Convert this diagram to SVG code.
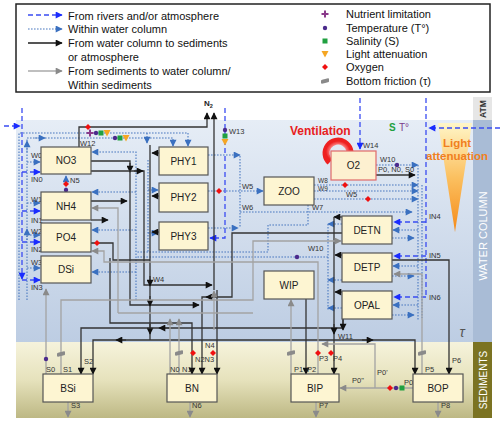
<svg xmlns="http://www.w3.org/2000/svg" width="500" height="423" viewBox="0 0 500 423">
<defs>
<style>
text{font-family:"Liberation Sans",Arial,sans-serif}
.riv{stroke:#3a4cf2;stroke-width:1.3;stroke-dasharray:5 3;fill:none}
.wat{stroke:#4a78c0;stroke-width:1.1;stroke-dasharray:1.6 1.4;fill:none}
.blk{stroke:#333;stroke-width:1.3;fill:none}
.gry{stroke:#a3a3a3;stroke-width:1.3;fill:none}
.riv.a{marker-end:url(#mB)}
.wat.a{marker-end:url(#mW)}
.blk.a{marker-end:url(#mK)}
.gry.a{marker-end:url(#mG)}
.box{fill:#fdf5d2;stroke:#555;stroke-width:1.2}
.nt{font-size:10px;fill:#222;text-anchor:middle}
.lb{font-size:7.5px;fill:#333}
.sm{font-size:6.5px;fill:#333}
.lg{font-size:11px;fill:#111}
</style>
<marker id="mB" viewBox="0 0 10 10" refX="9" refY="5" markerWidth="8" markerHeight="7" markerUnits="userSpaceOnUse" orient="auto"><path d="M0,0L10,5L0,10z" fill="#1a2cff"/></marker>
<marker id="mW" viewBox="0 0 10 10" refX="9" refY="5" markerWidth="8" markerHeight="7" markerUnits="userSpaceOnUse" orient="auto"><path d="M0,0L10,5L0,10z" fill="#3a70c0"/></marker>
<marker id="mK" viewBox="0 0 10 10" refX="9" refY="5" markerWidth="8" markerHeight="7" markerUnits="userSpaceOnUse" orient="auto"><path d="M0,0L10,5L0,10z" fill="#111"/></marker>
<marker id="mG" viewBox="0 0 10 10" refX="9" refY="5" markerWidth="8" markerHeight="7" markerUnits="userSpaceOnUse" orient="auto"><path d="M0,0L10,5L0,10z" fill="#8a8a8a"/></marker>
<linearGradient id="gWater" x1="0" y1="0" x2="0" y2="1"><stop offset="0" stop-color="#e6edf6"/><stop offset="1" stop-color="#bdcde3"/></linearGradient>
<linearGradient id="gSed" x1="0" y1="0" x2="0" y2="1"><stop offset="0" stop-color="#f6f3dc"/><stop offset="0.5" stop-color="#e6e2bc"/><stop offset="1" stop-color="#bdb884"/></linearGradient>
<linearGradient id="gLight" x1="0" y1="0" x2="0" y2="1"><stop offset="0" stop-color="#fff6c8"/><stop offset="0.5" stop-color="#fbc060"/><stop offset="1" stop-color="#f58a18"/></linearGradient>
<radialGradient id="gVent" cx="0.5" cy="0.5" r="0.5"><stop offset="0.6" stop-color="#ff9090"/><stop offset="1" stop-color="#ee2020"/></radialGradient>
<path id="dia" d="M0,-3L3,0L0,3L-3,0z" fill="#f01010"/>
<circle id="dot" r="2.2" fill="#4b2a8c"/>
<rect id="sq" x="-2.5" y="-2.5" width="5" height="5" fill="#20a040"/>
<path id="tri" d="M-3.5,-3L3.5,-3L0,3.5z" fill="#f5a623"/>
<path id="plus" d="M-1,-3.5h2v2.5h2.5v2h-2.5v2.5h-2v-2.5h-2.5v-2h2.5z" fill="#8a3a8a"/>
<rect id="fric" x="-4" y="-2" width="8" height="4" rx="1" fill="#8a8a8a" transform="skewY(-12)"/>
</defs>

<rect width="500" height="423" fill="#fff"/>

<g id="legend">
<rect x="16" y="4" width="474" height="88" fill="#fff" stroke="#222" stroke-width="1.5"/>
<path d="M28,15H62" class="riv a"/>
<path d="M28,29H62" class="wat a"/>
<path d="M28,43H62" stroke="#555" stroke-width="2" fill="none" marker-end="url(#mK)"/>
<path d="M28,71H62" stroke="#aaa" stroke-width="1.3" fill="none" marker-end="url(#mG)"/>
<text class="lg" x="68" y="19.5">From rivers and/or atmosphere</text>
<text class="lg" x="68" y="33">Within water column</text>
<text class="lg" x="68" y="47">From water column to sediments</text>
<text class="lg" x="68" y="61">or atmosphere</text>
<text class="lg" x="68" y="75">From sediments to water column/</text>
<text class="lg" x="68" y="89">Within sediments</text>
<use href="#plus" x="325" y="14"/>
<use href="#dot" x="325" y="28"/>
<use href="#sq" x="325" y="41"/>
<use href="#tri" x="325" y="54"/>
<use href="#dia" x="325" y="67"/>
<use href="#fric" x="325" y="81"/>
<text class="lg" x="346" y="18">Nutrient limitation</text>
<text class="lg" x="346" y="32">Temperature (T°)</text>
<text class="lg" x="346" y="45">Salinity (S)</text>
<text class="lg" x="346" y="58">Light attenuation</text>
<text class="lg" x="346" y="71">Oxygen</text>
<text class="lg" x="346" y="85">Bottom friction (τ)</text>
</g>

<g id="background">
<rect x="16" y="120" width="457" height="222" fill="url(#gWater)"/>
<rect x="16" y="342" width="457" height="76" fill="url(#gSed)"/>
<rect x="473" y="97" width="19" height="23" fill="#e6e6e6"/>
<rect x="473" y="120" width="19" height="222" fill="#a9bcd6"/>
<rect x="473" y="342" width="19" height="76" fill="#7b7322"/>
<text transform="translate(486,109) rotate(-90)" font-size="8.5" font-weight="bold" fill="#333" text-anchor="middle">ATM</text>
<text transform="translate(487,236) rotate(-90)" font-size="11" fill="#fff" text-anchor="middle">WATER COLUMN</text>
<text transform="translate(487,380) rotate(-90)" font-size="10" fill="#fff" text-anchor="middle">SEDIMENTS</text>
<text x="462" y="337" font-size="14" font-style="italic" fill="#555" text-anchor="middle" font-family="Liberation Serif">τ</text>
<polygon points="438,123 472,123 455,232" fill="url(#gLight)"/>
<text x="457" y="147" font-size="11.5" font-weight="bold" fill="#f07f20" text-anchor="middle">Light</text>
<text x="457" y="160" font-size="11.5" font-weight="bold" fill="#f07f20" text-anchor="middle">attenuation</text>
<text x="290" y="135" font-size="12" font-weight="bold" fill="#e82020">Ventilation</text>
<text x="389" y="131" font-size="10" font-weight="bold" fill="#20a040">S</text>
<text x="399" y="131" font-size="10" fill="#7a3a8a">T°</text>
<path d="M330,162 A12,12 0 1 1 349,158" fill="none" stroke="url(#gVent)" stroke-width="7"/>
<path d="M343,152 L356,155 L347,166 z" fill="#f04040"/>
</g>

<g id="connectors">
<!-- rivers / atmosphere -->
<path d="M4,126H20" class="riv a"/>
<path d="M22,108V279" class="riv a"/>
<path d="M22,172H40" class="riv a"/>
<path d="M22,211H40" class="riv a"/>
<path d="M22,242H40" class="riv a"/>
<path d="M22,280H40" class="riv a"/>
<path d="M225,108V238H210" class="riv a"/>
<path d="M360,98V149" class="riv a"/>
<path d="M500,128H429" class="riv a"/>
<path d="M426,98V297" class="riv"/>
<path d="M426,222H394" class="riv a"/>
<path d="M426,256H394" class="riv a"/>
<path d="M426,297H394" class="riv a"/>

<!-- within water column -->
<path d="M19,300V133H188V146" class="wat a"/>
<path d="M27,300V138H173V146" class="wat a"/>
<path d="M35,138H45" class="wat a"/>
<path d="M147,133V143" class="wat a"/>
<path d="M27,152V141" class="wat a"/>
<path d="M27,240V229" class="wat a"/>
<path d="M27,162H40" class="wat a"/>
<path d="M27,203H40" class="wat a"/>
<path d="M27,235H40" class="wat a"/>
<path d="M27,268H40" class="wat a"/>
<path d="M136,300V152H92" class="wat a"/>
<path d="M136,192H92" class="wat a"/>
<path d="M136,230H92" class="wat a"/>
<path d="M136,272H92" class="wat a"/>
<path d="M148,160V252" class="wat"/>
<path d="M148,190H158" class="wat a"/>
<path d="M148,233H158" class="wat a"/>
<path d="M208,155H240" class="wat a"/>
<path d="M240,156V228" class="wat"/>
<path d="M208,191H263" class="wat a"/>
<path d="M208,228H238" class="wat a"/>
<path d="M240,212H412" class="wat a"/>
<path d="M308,205V225H268V252H136" class="wat"/>
<path d="M328,224V310" class="wat"/>
<path d="M328,257H136" class="wat"/>
<path d="M342,224H328" class="wat a"/>
<path d="M342,280H328" class="wat a"/>
<path d="M342,308H328" class="wat a"/>
<path d="M314,185H418" class="wat a"/>
<path d="M314,191H418" class="wat a"/>
<path d="M314,199H418" class="wat a"/>
<path d="M376,165H418" class="wat a"/>
<path d="M418,165V320" class="wat"/>
<path d="M422,185V318" class="wat"/>
<path d="M418,230H393" class="wat a"/>
<path d="M418,266H393" class="wat a"/>
<path d="M418,305H393" class="wat a"/>
<path d="M392,238H414" class="wat a"/>
<path d="M392,276H414" class="wat a"/>
<path d="M392,315H414" class="wat a"/>

<!-- water column to sediments / atmosphere -->
<path d="M79,147V127H207V113" class="blk a"/>
<path d="M214,290V113" class="blk a"/>
<path d="M91,161H130V305H199" class="blk a"/>
<path d="M130,163V172" class="blk a"/>
<path d="M91,171H144V285H212" class="blk a"/>
<path d="M134,171H143" class="blk a"/>
<path d="M91,201H127" class="blk a"/>
<path d="M91,220H108" class="blk a"/>
<path d="M91,243H113V260H150" class="blk"/>
<path d="M159,153H152" class="blk a"/>
<path d="M159,196H152" class="blk a"/>
<path d="M159,232H152" class="blk a"/>
<path d="M150,145V340" class="blk"/>
<path d="M150,276V286" class="blk a"/>
<path d="M150,296V306" class="blk a"/>
<path d="M150,324V334" class="blk a"/>
<path d="M150,340H93V374" class="blk a"/>
<path d="M126,340H116" class="blk a"/>
<path d="M150,340H415V374" class="blk a"/>
<path d="M362,340H373" class="blk a"/>
<path d="M343,319V328H81V374" class="blk a"/>
<path d="M343,319V330" class="blk a"/>
<path d="M170,328H159" class="blk a"/>
<path d="M110,258V323H192V374" class="blk a"/>
<path d="M342,233H232V297H202V374" class="blk a"/>
<path d="M215,297H206" class="blk a"/>
<path d="M217,290V374" class="blk a"/>
<path d="M306,299V374" class="blk a"/>
<path d="M342,217H334" class="blk a"/>
<path d="M342,255H335" class="blk a"/>
<path d="M342,292H335" class="blk a"/>
<path d="M334,217V374" class="blk a"/>
<path d="M334,324V334" class="blk a"/>
<path d="M392,260H449V374" class="blk a"/>
<path d="M376,175H415" class="blk a"/>

<!-- from sediments -->
<path d="M46,374V289" class="gry a"/>
<path d="M61,374V300H253V241H341" class="gry a"/>
<path d="M68,402V417" class="gry a"/>
<path d="M118,313V208H92" class="gry a"/>
<path d="M118,313H253" class="gry"/>
<path d="M318,374V262H104V251H92" class="gry a"/>
<path d="M170,374V319" class="gry a"/>
<path d="M179,374V319" class="gry a"/>
<path d="M214,330V291" class="gry a"/>
<path d="M190,402V417" class="gry a"/>
<path d="M291,374V300" class="gry a"/>
<path d="M316,402V417" class="gry a"/>
<path d="M438,402V417" class="gry a"/>
<path d="M413,388H340" class="gry a"/>
<path d="M375,388V344H322" class="gry a"/>
<path d="M422,374V274H394" class="gry a"/>

<!-- symbols -->
<use href="#dia" x="88" y="127"/>
<use href="#plus" x="90" y="133"/>
<use href="#dot" x="96" y="133"/>
<use href="#sq" x="101" y="133"/>
<use href="#tri" x="107" y="133"/>
<use href="#dot" x="115" y="138"/>
<use href="#sq" x="120" y="138"/>
<use href="#tri" x="126" y="138"/>
<path d="M66,192V176" class="wat a"/>
<use href="#dia" x="66" y="184"/>
<use href="#dot" x="66" y="190"/>
<use href="#dot" x="225" y="130"/>
<use href="#sq" x="225" y="136"/>
<use href="#tri" x="225" y="142"/>
<use href="#dia" x="219" y="191"/>
<use href="#dia" x="97" y="243"/>
<use href="#dia" x="345" y="185"/>
<use href="#dia" x="368" y="199"/>
<use href="#dot" x="397" y="165"/>
<use href="#dot" x="297" y="257"/>
<use href="#dot" x="46" y="359"/>
<use href="#fric" x="61" y="354"/>
<use href="#fric" x="179" y="353"/>
<use href="#dia" x="193" y="353"/>
<use href="#dia" x="213" y="353"/>
<use href="#fric" x="291" y="353"/>
<use href="#dia" x="318" y="353"/>
<use href="#dia" x="331" y="353"/>
<use href="#fric" x="422" y="353"/>
<use href="#dia" x="390" y="388"/>
<use href="#dot" x="396" y="388"/>
<use href="#sq" x="402" y="388"/>
</g>

<g id="labels">
<text class="lb" x="31" y="158">W0</text>
<text class="lb" x="31" y="182">IN0</text>
<text class="lb" x="31" y="202">W1</text>
<text class="lb" x="31" y="223">IN1</text>
<text class="lb" x="31" y="234">W2</text>
<text class="lb" x="31" y="252">IN2</text>
<text class="lb" x="31" y="265">W3</text>
<text class="lb" x="31" y="290">IN3</text>
<text class="lb" x="80" y="146">W12</text>
<text class="lb" x="70" y="183">N5</text>
<text class="lb" x="229" y="134">W13</text>
<text x="204" y="106" font-size="8" font-weight="bold" fill="#222">N<tspan font-size="5.5" dy="2">2</tspan></text>
<text class="lb" x="242" y="189">W5</text>
<text class="lb" x="242" y="210">W6</text>
<text class="lb" x="312" y="210">W7</text>
<text class="lb" x="363" y="148">W14</text>
<text class="lb" x="380" y="162">W10</text>
<text class="lb" x="378" y="172">P0, N0, S0</text>
<text class="sm" x="318" y="183">W8</text>
<text class="sm" x="318" y="190.5">W9</text>
<text class="lb" x="346" y="197">W5</text>
<text class="lb" x="308" y="251">W10</text>
<text class="lb" x="153" y="282">W4</text>
<text class="lb" x="338" y="339">W11</text>
<text class="lb" x="429" y="219">IN4</text>
<text class="lb" x="429" y="258">IN5</text>
<text class="lb" x="429" y="300">IN6</text>
<text class="lb" x="46" y="372">S0</text>
<text class="lb" x="63" y="372">S1</text>
<text class="lb" x="84" y="364">S2</text>
<text class="lb" x="71" y="408">S3</text>
<text class="lb" x="170" y="372">N0</text>
<text class="lb" x="182" y="372">N1</text>
<text class="lb" x="195" y="362">N2N3</text>
<text class="lb" x="205" y="348">N4</text>
<text class="lb" x="192" y="408">N6</text>
<text class="lb" x="294" y="372">P1</text>
<text class="lb" x="307" y="372">P2</text>
<text class="lb" x="319" y="361">P3</text>
<text class="lb" x="333" y="361">P4</text>
<text class="lb" x="377" y="375">P0'</text>
<text class="lb" x="352" y="383">P0"</text>
<text class="lb" x="404" y="385">P0</text>
<text class="lb" x="425" y="372">P5</text>
<text class="lb" x="452" y="363">P6</text>
<text class="lb" x="319" y="408">P7</text>
<text class="lb" x="441" y="408">P8</text>
</g>

<g id="NO3"><rect class="box" x="41" y="147" width="50" height="27"/><text class="nt" x="66" y="164">NO3</text></g>
<g id="NH4"><rect class="box" x="41" y="192" width="50" height="28"/><text class="nt" x="66" y="210">NH4</text></g>
<g id="PO4"><rect class="box" x="41" y="223" width="50" height="29"/><text class="nt" x="66" y="241">PO4</text></g>
<g id="DSi"><rect class="box" x="41" y="256" width="50" height="27"/><text class="nt" x="66" y="273">DSi</text></g>
<g id="PHY1"><rect class="box" x="159" y="147" width="49" height="28"/><text class="nt" x="183.5" y="165">PHY1</text></g>
<g id="PHY2"><rect class="box" x="159" y="183" width="49" height="29"/><text class="nt" x="183.5" y="201">PHY2</text></g>
<g id="PHY3"><rect class="box" x="159" y="222" width="49" height="28"/><text class="nt" x="183.5" y="240">PHY3</text></g>
<g id="ZOO"><rect class="box" x="264" y="177" width="50" height="28"/><text class="nt" x="289" y="195">ZOO</text></g>
<g id="O2"><rect x="331" y="151" width="45" height="29" fill="#fdf0d0" stroke="#e06a6a" stroke-width="1.2"/><text class="nt" x="353.5" y="169">O2</text></g>
<g id="DETN"><rect class="box" x="342" y="216" width="50" height="28"/><text class="nt" x="367" y="234">DETN</text></g>
<g id="DETP"><rect class="box" x="342" y="253" width="50" height="29"/><text class="nt" x="367" y="271">DETP</text></g>
<g id="OPAL"><rect class="box" x="342" y="291" width="50" height="28"/><text class="nt" x="367" y="309">OPAL</text></g>
<g id="WIP"><rect class="box" x="264" y="271" width="50" height="28"/><text class="nt" x="289" y="289">WIP</text></g>
<g id="BSi"><rect class="box" x="43" y="374" width="50" height="28"/><text class="nt" x="68" y="392">BSi</text></g>
<g id="BN"><rect class="box" x="167" y="374" width="50" height="28"/><text class="nt" x="192" y="392">BN</text></g>
<g id="BIP"><rect class="box" x="291" y="374" width="48" height="28"/><text class="nt" x="315" y="392">BIP</text></g>
<g id="BOP"><rect class="box" x="413" y="374" width="50" height="28"/><text class="nt" x="438" y="392">BOP</text></g>
</svg>
